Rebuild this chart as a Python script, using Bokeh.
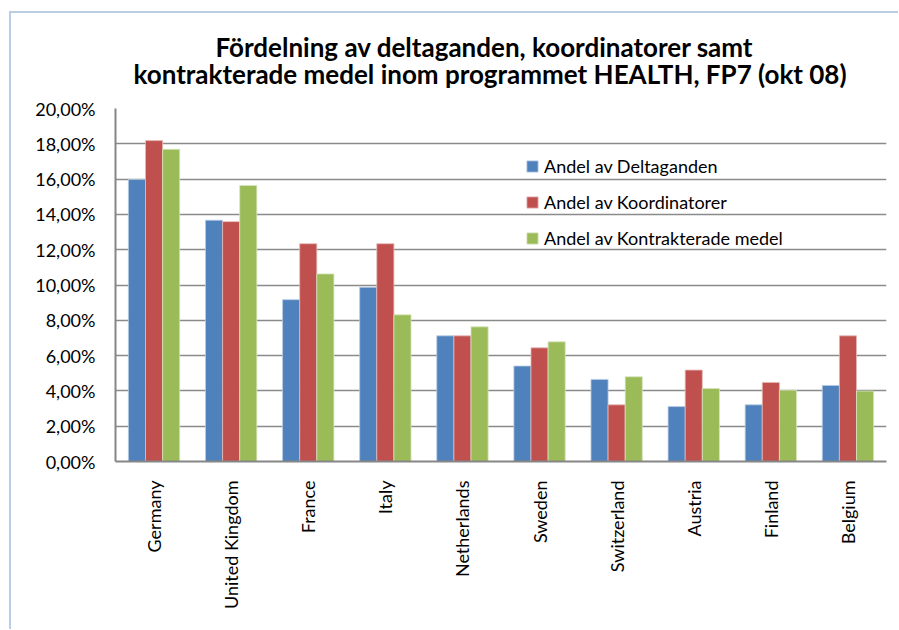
from bokeh.plotting import figure
from bokeh.models import FactorRange, Range1d, FixedTicker, Title, Legend, LegendItem, ColumnDataSource
from bokeh.transform import dodge
from bokeh.embed import file_html
from bokeh.resources import INLINE
import math

countries = ["Germany", "United Kingdom", "France", "Italy", "Netherlands",
             "Sweden", "Switzerland", "Austria", "Finland", "Belgium"]
deltaganden = [15.98, 13.67, 9.17, 9.87, 7.12, 5.41, 4.65, 3.11, 3.21, 4.31]
koordinatorer = [18.18, 13.59, 12.34, 12.34, 7.12, 6.44, 3.21, 5.18, 4.48, 7.12]
kontrakterade = [17.69, 15.64, 10.63, 8.31, 7.63, 6.78, 4.80, 4.14, 4.04, 3.99]
series_names = ["Andel av Deltaganden", "Andel av Koordinatorer", "Andel av Kontrakterade medel"]
y_ticks = [0, 2, 4, 6, 8, 10, 12, 14, 16, 18, 20]
y_tick_labels = ["0,00%", "2,00%", "4,00%", "6,00%", "8,00%", "10,00%",
                 "12,00%", "14,00%", "16,00%", "18,00%", "20,00%"]
title_lines = ["Fördelning av deltaganden, koordinatorer samt",
               "kontrakterade medel inom programmet HEALTH, FP7 (okt 08)"]

colors = ["#4F81BD", "#C0504D", "#9BBB59"]
edge = ["#B9CDE5", "#E6B9B8", "#D7E4BD"]
FONT = "Lato"

src = ColumnDataSource(dict(x=countries, a=deltaganden, b=koordinatorer, c=kontrakterade))

p = figure(width=898, height=629, x_range=FactorRange(*countries), y_range=Range1d(0, 20),
           output_backend="svg", toolbar_location=None,
           min_border_left=115, min_border_right=12, min_border_top=108, min_border_bottom=168)
p.outline_line_color = None
p.background_fill_color = "white"
p.border_fill_alpha = 0
p.styles = {"background-color": "white",
            "box-shadow": "inset 9px 11px 0 0 #ffffff, inset 11px 13px 0 0 #B9CDE5"}

bw = 0.222
renderers = []
for i, key in enumerate(["a", "b", "c"]):
    r = p.vbar(x=dodge("x", (i - 1) * bw, range=p.x_range), top=key, width=bw, source=src,
               fill_color=colors[i], line_color=edge[i], line_width=0.8)
    renderers.append(r)

legend = Legend(items=[LegendItem(label=series_names[i], renderers=[renderers[i]]) for i in range(3)],
                location=(410, 212), border_line_color=None, background_fill_alpha=0,
                label_text_font=FONT, label_text_font_size="18px", label_text_color="#000000",
                glyph_width=14, glyph_height=14, label_height=20, spacing=14,
                label_standoff=5, padding=0, margin=0)
p.add_layout(legend)

# axes
p.yaxis.ticker = FixedTicker(ticks=y_ticks)
p.yaxis.major_label_overrides = {t: l for t, l in zip(y_ticks, y_tick_labels)}
for ax in (p.xaxis[0], p.yaxis[0]):
    ax.axis_line_color = "#868686"
    ax.axis_line_width = 2
    ax.major_tick_line_color = None
    ax.minor_tick_line_color = None
    ax.major_label_text_font = FONT
    ax.major_label_text_font_size = "18px"
    ax.major_label_text_color = "#000000"
p.yaxis.major_label_standoff = 14
p.xaxis.major_label_orientation = math.pi / 2
p.xaxis.major_label_standoff = 13
p.xgrid.grid_line_color = None
p.ygrid.grid_line_color = "#8a8a8a"
p.ygrid.grid_line_width = 1.5

# title (two lines; second line added first so it sits closest to the plot)
for txt, off, so in zip(reversed(title_lines), [18, 100], [38, -52]):
    p.add_layout(Title(text=txt, align="left", offset=off, text_font=FONT, text_font_style="bold",
                       text_font_size="26px", text_color="#000000", standoff=so), "above")

open("out.html", "w").write(file_html(p, INLINE))
